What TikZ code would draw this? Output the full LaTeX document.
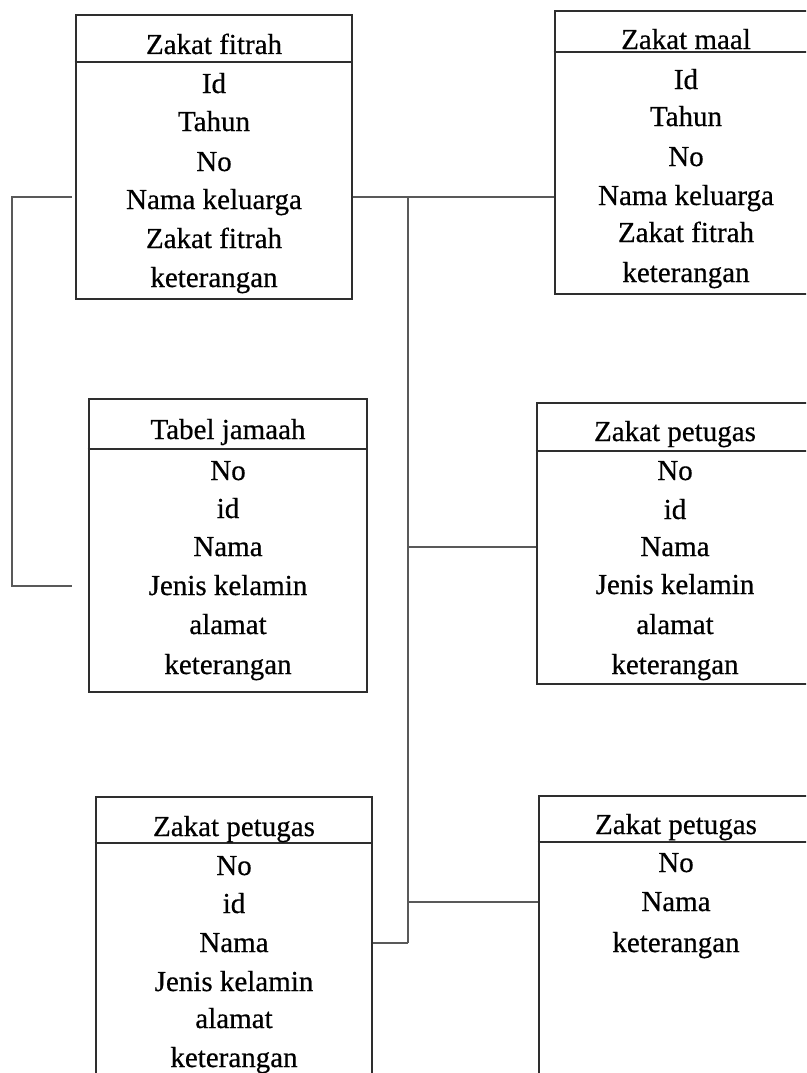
\documentclass[tikz,border=0pt]{standalone}
\usepackage{fontspec}
\setmainfont{Liberation Serif}[UprightFeatures={FakeBold=0.5}]
\usetikzlibrary{fit}
\begin{document}
\begin{tikzpicture}[x=1pt,y=-1pt,
  box/.style={draw=black!82,line width=2.6pt,inner sep=0pt},
  hline/.style={draw=black!82,line width=2.6pt},
  conn/.style={draw=black!65,line width=2.8pt},
  txt/.style={anchor=base,inner sep=0pt,font=\fontsize{29}{33}\selectfont,text=black}]
\useasboundingbox (0,0) rectangle (806,1073);
\clip (0,0) rectangle (806,1073);
\fill[white] (0,0) rectangle (806,1073);

% --- Zakat fitrah
\node[box,fit={(76,15) (352,299)}] (zf) {};
\draw[hline] (zf.west |- 0,62) -- (zf.east |- 0,62);
\node[txt] (zf0) at (214,54) {Zakat fitrah};
\node[txt] (zf1) at (214,93) {Id};
\node[txt] (zf2) at (214,131) {Tahun};
\node[txt] (zf3) at (214,171) {No};
\node[txt] (zf4) at (214,209) {Nama keluarga};
\node[txt] (zf5) at (214,248) {Zakat fitrah};
\node[txt] (zf6) at (214,287) {keterangan};

% --- Zakat maal
\node[box,fit={(555,11) (812,294)}] (zm) {};
\draw[hline] (zm.west |- 0,52) -- (zm.east |- 0,52);
\node[txt] (zm0) at (686,49) {Zakat maal};
\node[txt] (zm1) at (686,89) {Id};
\node[txt] (zm2) at (686,126) {Tahun};
\node[txt] (zm3) at (686,166) {No};
\node[txt] (zm4) at (686,205) {Nama keluarga};
\node[txt] (zm5) at (686,242) {Zakat fitrah};
\node[txt] (zm6) at (686,282) {keterangan};

% --- Tabel jamaah
\node[box,fit={(89,399) (367,692)}] (tj) {};
\draw[hline] (tj.west |- 0,449) -- (tj.east |- 0,449);
\node[txt] (tj0) at (228,439) {Tabel jamaah};
\node[txt] (tj1) at (228,480) {No};
\node[txt] (tj2) at (228,518) {id};
\node[txt] (tj3) at (228,556) {Nama};
\node[txt] (tj4) at (228,595) {Jenis kelamin};
\node[txt] (tj5) at (228,634) {alamat};
\node[txt] (tj6) at (228,674) {keterangan};

% --- Zakat petugas (middle right)
\node[box,fit={(537,403) (812,684)}] (zp1) {};
\draw[hline] (zp1.west |- 0,451) -- (zp1.east |- 0,451);
\node[txt] (zpa0) at (675,441) {Zakat petugas};
\node[txt] (zpa1) at (675,480) {No};
\node[txt] (zpa2) at (675,519) {id};
\node[txt] (zpa3) at (675,556) {Nama};
\node[txt] (zpa4) at (675,594) {Jenis kelamin};
\node[txt] (zpa5) at (675,634) {alamat};
\node[txt] (zpa6) at (675,674) {keterangan};

% --- Zakat petugas (bottom left)
\node[box,fit={(96,797) (372,1080)}] (zp3) {};
\draw[hline] (zp3.west |- 0,843) -- (zp3.east |- 0,843);
\node[txt] (zpc0) at (234,836) {Zakat petugas};
\node[txt] (zpc1) at (234,875) {No};
\node[txt] (zpc2) at (234,913) {id};
\node[txt] (zpc3) at (234,952) {Nama};
\node[txt] (zpc4) at (234,991) {Jenis kelamin};
\node[txt] (zpc5) at (234,1028) {alamat};
\node[txt] (zpc6) at (234,1067) {keterangan};

% --- Zakat petugas (bottom right)
\node[box,fit={(539,796) (812,1080)}] (zp2) {};
\draw[hline] (zp2.west |- 0,842) -- (zp2.east |- 0,842);
\node[txt] (zpb0) at (676,834) {Zakat petugas};
\node[txt] (zpb1) at (676,872) {No};
\node[txt] (zpb2) at (676,911) {Nama};
\node[txt] (zpb3) at (676,952) {keterangan};

% --- connectors
\coordinate (la) at (72,197);
\coordinate (lb) at (72,586);
\coordinate (ltop) at (408,197);
\coordinate (lbot) at (408,943);
\draw[conn] (la) -- (12,197) -- (12,586) -- (lb);
\draw[conn] (zf.east |- la) -- (zm.west |- la);
\draw[conn] (ltop) -- (lbot);
\draw[conn] (ltop |- 0,547) -- (zp1.west |- 0,547);
\draw[conn] (ltop |- 0,902) -- (zp2.west |- 0,902);
\draw[conn] (zp3.east |- lbot) -- (lbot);
\end{tikzpicture}
\end{document}
